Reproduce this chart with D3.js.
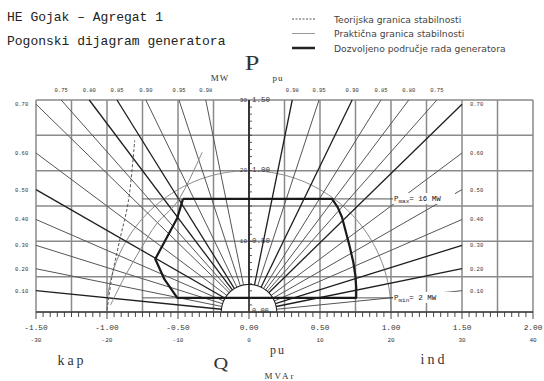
<!DOCTYPE html>
<html>
<head>
<meta charset="utf-8">
<script src="https://cdn.jsdelivr.net/npm/d3@7/dist/d3.min.js"></script>
<style>
  body { margin: 0; background: #fff; }
  svg { display: block; }
</style>
</head>
<body>
<div id="chart"></div>
<script>
// Q axis (MVAr) and its per-unit labels
const qTicks = [-30, -20, -10, 0, 10, 20, 30, 40];
const qTickPu = ['-1.50', '-1.00', '-0.50', '0.00', '0.50', '1.00', '1.50', '2.00'];
// P axis (MW) and its per-unit labels
const pTicks = [10, 20, 30];
const pTickPu = ['0.50', '1.00', '1.50'];
// cos phi rays: labelled at the top and at the sides
const cosTop = [0.75, 0.80, 0.85, 0.90, 0.95, 0.98];
const cosSide = [0.10, 0.20, 0.30, 0.40, 0.50, 0.60, 0.70];
// circles (MVA)
const sRated = 20;
const sInner = 3.9;
// active power limits (MW)
const pMax = 16;
const pMin = 2;
// allowed operating area [Q MVAr, P MW]
const boundary = [[-9.3, 16], [11.7, 16], [12.5, 14.8], [13.1, 13.4], [14.2, 9.2], [14.7, 7.0],
  [15.0, 5.0], [15.1, 3.5], [15.1, 2], [-10.1, 2], [-11.9, 4.6], [-13.2, 7.5], [-10.1, 13.3], [-9.3, 16]];
// theoretical stability limit
const theoretical = [[-20, 0.3], [-19.3, 5], [-18.2, 10.2], [-17.0, 15.6], [-16.1, 24.3]];
// practical stability limit
const practical = [[-19.5, 1], [-17.5, 5], [-15.2, 9], [-13.0, 12.5], [-10.1, 15.6], [-6.6, 22.6]];

const W = 544, H = 381;
const svg = d3.select('#chart').append('svg').attr('width', W).attr('height', H);

const x = d3.scaleLinear().domain([-30, 40]).range([36, 533]);
const y = d3.scaleLinear().domain([0, 30]).range([312, 100]);
const mono = "'Liberation Mono', 'DejaVu Sans Mono', monospace";
const serif = "'Liberation Serif', 'DejaVu Serif', serif";
const sans = "'DejaVu Sans', 'Liberation Sans', sans-serif";

// title
svg.append('text').attr('x', 7).attr('y', 21).style('font-family', mono).style('font-size', '13px')
  .style('fill', '#222').text('HE Gojak \u2013 Agregat 1');
svg.append('text').attr('x', 7).attr('y', 45).style('font-family', mono).style('font-size', '13px')
  .style('fill', '#222').text('Pogonski dijagram generatora');

// legend
const legend = [
  { label: 'Teorijska granica stabilnosti', stroke: '#555', width: 1, dash: '2,1.5' },
  { label: 'Praktična granica stabilnosti', stroke: '#999', width: 1, dash: null },
  { label: 'Dozvoljeno područje rada generatora', stroke: '#222', width: 2.5, dash: null },
];
const lg = svg.append('g').selectAll('g').data(legend).join('g')
  .attr('transform', (d, i) => `translate(0,${19 + i * 14.5})`);
lg.append('line').attr('x1', 292).attr('x2', 315).attr('stroke', d => d.stroke)
  .attr('stroke-width', d => d.width).attr('stroke-dasharray', d => d.dash);
lg.append('text').attr('x', 334).attr('y', 3.5).style('font-family', sans).style('font-size', '9.2px')
  .style('fill', '#444').text(d => d.label);

// grid
const grid = svg.append('g').attr('stroke', '#8a8a8a').attr('stroke-width', 1.5);
grid.selectAll('.v').data(d3.range(-30, 41, 5)).join('line').attr('class', 'v')
  .attr('x1', d => x(d)).attr('x2', d => x(d)).attr('y1', y(30)).attr('y2', y(0));
grid.selectAll('.h').data(d3.range(0, 31, 5)).join('line').attr('class', 'h')
  .attr('x1', x(-30)).attr('x2', x(40)).attr('y1', d => y(d)).attr('y2', d => y(d));

// stator circle
const arcPath = r => d3.line().x(a => x(r * Math.cos(a))).y(a => y(r * Math.sin(a)))(d3.range(0, Math.PI + 0.001, Math.PI / 180));
svg.append('path').attr('d', arcPath(sRated)).attr('fill', 'none').attr('stroke', '#888').attr('stroke-width', 1);

// cos phi rays
const rays = [];
[-1, 1].forEach(side => {
  cosSide.forEach(c => rays.push({ side, c, top: false }));
  cosTop.forEach(c => rays.push({ side, c, top: true }));
});
rays.forEach(d => {
  const s = Math.sqrt(1 - d.c * d.c);
  const t = d.top ? 30 / d.c : 30 / s;
  d.q0 = d.side * s * sInner; d.p0 = d.c * sInner;
  d.q1 = d.side * s * t; d.p1 = d.c * t;
});
const heavy = d => (d.side < 0 && [0.5, 0.8, 0.85, 0.1].includes(d.c)) ||
  (d.side > 0 && [0.98, 0.9, 0.7, 0.3, 0.2].includes(d.c));
svg.append('g').selectAll('line').data(rays).join('line')
  .attr('x1', d => x(d.q0)).attr('y1', d => y(d.p0)).attr('x2', d => x(d.q1)).attr('y2', d => y(d.p1))
  .attr('stroke', d => heavy(d) ? '#1e1e1e' : '#555').attr('stroke-width', d => heavy(d) ? 1.3 : 1);

// inner semicircle (white inside)
svg.append('path').attr('d', arcPath(sInner) + 'Z').attr('fill', '#fff').attr('stroke', '#222').attr('stroke-width', 1.1);

// stability limits
const line = d3.line().x(d => x(d[0])).y(d => y(d[1])).curve(d3.curveCatmullRom);
svg.append('path').attr('d', line(theoretical)).attr('fill', 'none').attr('stroke', '#555')
  .attr('stroke-width', 1).attr('stroke-dasharray', '3,2');
svg.append('path').attr('d', line(practical)).attr('fill', 'none').attr('stroke', '#888').attr('stroke-width', 1);

// Pmax / Pmin thin lines
[pMax, pMin].forEach(p => {
  svg.append('line').attr('x1', x(-15)).attr('x2', x(20.3)).attr('y1', y(p)).attr('y2', y(p))
    .attr('stroke', '#444').attr('stroke-width', 0.9);
});

// allowed operating area
svg.append('path').attr('d', d3.line().x(d => x(d[0])).y(d => y(d[1]))(boundary))
  .attr('fill', 'none').attr('stroke', '#1a1a1a').attr('stroke-width', 2.2).attr('stroke-linejoin', 'round');

// P axis with minor ticks
svg.append('line').attr('x1', x(0)).attr('x2', x(0)).attr('y1', y(30)).attr('y2', y(0))
  .attr('stroke', '#111').attr('stroke-width', 1.5);
svg.append('g').selectAll('line').data(d3.range(1, 30)).join('line')
  .attr('x1', x(0)).attr('x2', x(0) + 3).attr('y1', d => y(d)).attr('y2', d => y(d))
  .attr('stroke', '#333').attr('stroke-width', 0.8);
const pl = svg.append('g').style('font-family', mono).style('fill', '#333');
pl.selectAll('.mw').data(pTicks).join('text').attr('class', 'mw')
  .attr('x', x(0) - 2).attr('y', d => y(d) + 1.5).attr('text-anchor', 'end').style('font-size', '6px').text(d => d);
pl.selectAll('.pu').data(pTickPu).join('text').attr('class', 'pu')
  .attr('x', x(0) + 3).attr('y', (d, i) => y(pTicks[i]) + 1.5).style('font-size', '7.5px').text(d => d);
pl.append('text').attr('x', x(0) + 3).attr('y', y(0) + 1).style('font-size', '7px').text('0.00');

// Q axis: frame bottom, minor ticks, labels
svg.append('line').attr('x1', x(-30)).attr('x2', x(40)).attr('y1', y(0)).attr('y2', y(0))
  .attr('stroke', '#444').attr('stroke-width', 1.3);
svg.append('g').selectAll('line').data(d3.range(-30, 41)).join('line')
  .attr('x1', d => x(d)).attr('x2', d => x(d)).attr('y1', y(0)).attr('y2', d => y(0) + (d % 10 === 0 ? 7 : 5))
  .attr('stroke', '#333').attr('stroke-width', 0.9);
const ql = svg.append('g').style('font-family', mono).style('fill', '#333').attr('text-anchor', 'middle');
ql.selectAll('.pu').data(qTickPu).join('text').attr('class', 'pu')
  .attr('x', (d, i) => x(qTicks[i])).attr('y', 330).style('font-size', '7.8px').text(d => d);
ql.selectAll('.mv').data(qTicks).join('text').attr('class', 'mv')
  .attr('x', d => x(d)).attr('y', 342).style('font-size', '6px').text(d => d);

// cos phi labels
const cl = svg.append('g').style('font-family', mono).style('font-size', '5.5px').style('fill', '#333');
rays.forEach(d => {
  const txt = d3.format('.2f')(d.c);
  if (d.top) {
    cl.append('text').attr('x', x(d.q1)).attr('y', 92).attr('text-anchor', 'middle').text(txt);
  } else if (d.side < 0) {
    cl.append('text').attr('x', 15).attr('y', y(d.p1) + 2).text(txt);
  } else {
    cl.append('text').attr('x', 470).attr('y', y(d.p1) + 2).text(txt);
  }
});

// Pmax / Pmin labels
const plab = (p, sub, val) => {
  const g = svg.append('g').attr('transform', `translate(393,${y(p)})`);
  g.append('rect').attr('x', 0).attr('y', -6).attr('width', 62).attr('height', 11).attr('fill', '#fff');
  const t = g.append('text').attr('x', 1).attr('y', 2.5).style('font-family', mono).style('font-size', '7.5px').style('fill', '#222');
  t.append('tspan').text('P');
  t.append('tspan').attr('dy', 2).style('font-size', '6px').text(sub);
  t.append('tspan').attr('dy', -2).text('= ' + val + ' MW');
};
plab(pMax, 'max', pMax);
plab(pMin, 'min', pMin);

// axis names
const big = svg.append('g').style('font-family', serif).style('fill', '#333');
big.append('text').attr('x', 252).attr('y', 70).attr('text-anchor', 'middle').style('font-size', '21px')
  .attr('transform', 'translate(252,0) scale(1.25,1) translate(-252,0)').text('P');
big.append('text').attr('x', 220).attr('y', 81).attr('text-anchor', 'middle').style('font-size', '9px').style('letter-spacing', '1px').text('MW');
big.append('text').attr('x', 278).attr('y', 81).attr('text-anchor', 'middle').style('font-size', '9px').style('letter-spacing', '1px').text('pu');
big.append('text').attr('x', 278).attr('y', 354).attr('text-anchor', 'middle').style('font-size', '12px').style('letter-spacing', '2px').text('pu');
big.append('text').attr('x', 221).attr('y', 369).attr('text-anchor', 'middle').style('font-size', '17px')
  .attr('transform', 'translate(221,0) scale(1.2,1) translate(-221,0)').text('Q');
big.append('text').attr('x', 280).attr('y', 379).attr('text-anchor', 'middle').style('font-size', '9px').style('letter-spacing', '2px').text('MVAr');
big.append('text').attr('x', 72).attr('y', 365).attr('text-anchor', 'middle').style('font-size', '14px').style('letter-spacing', '3px').text('kap');
big.append('text').attr('x', 434).attr('y', 364).attr('text-anchor', 'middle').style('font-size', '14px').style('letter-spacing', '3px').text('ind');
</script>
</body>
</html>
